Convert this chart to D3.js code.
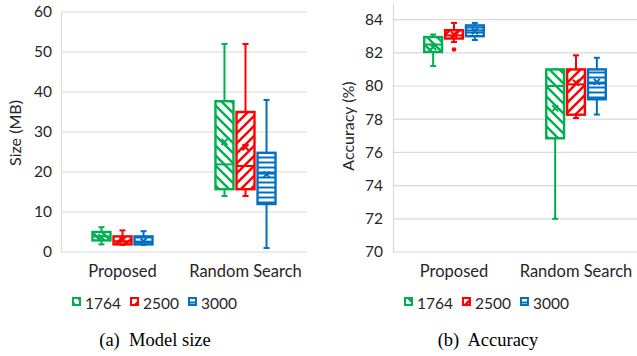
<!DOCTYPE html>
<html><head><meta charset="utf-8">
<script src="https://cdn.jsdelivr.net/npm/d3@7"></script>
<style>body{margin:0;background:#fff}svg{display:block}</style>
</head><body>
<svg id="c" width="637" height="356"></svg>
<script>
// ---- data ----
const categories = ["Proposed", "Random Search"];
const seriesNames = ["1764", "2500", "3000"];
const seriesColors = ["#00b050", "#ff0000", "#0070c0"];
// per category: [min, q1, median, q3, max, mean]
const size1764 = [[1.9, 2.9, 3.9, 5.0, 6.2, 3.7], [14.0, 15.7, 21.9, 37.7, 52.0, 27.5]];
const size2500 = [[1.8, 1.9, 2.7, 3.9, 5.4, 2.9], [14.0, 15.7, 21.5, 35.0, 52.0, 26.2]];
const size3000 = [[1.8, 1.9, 2.6, 3.9, 5.2, 2.7], [1.0, 12.0, 19.6, 24.8, 38.0, 19.4]];
const acc1764 = [[81.2, 82.05, 82.5, 82.95, 83.1, 82.35], [72.0, 76.85, 80.0, 81.0, 81.0, 78.65]];
const acc2500 = [[82.65, 82.86, 83.05, 83.36, 83.8, 83.1], [78.07, 78.27, 80.1, 81.0, 81.85, 80.2]];
const acc3000 = [[82.77, 83.0, 83.35, 83.65, 83.8, 83.3], [78.28, 79.2, 80.15, 81.0, 81.7, 80.25]];
const accOutliers2500 = [[82.2], []];
const sizeTicks = [0, 10, 20, 30, 40, 50, 60];
const accTicks = [70, 72, 74, 76, 78, 80, 82, 84];
const captions = ["(a)  Model size", "(b)  Accuracy"];

const svg = d3.select("#c");
const FONT = "Lato, 'Open Sans', sans-serif";
const TXT = "#262626";

// patterns
const defs = svg.append("defs");
function mkPattern(id, color, kind) {
  if (kind === "h") {
    const p = defs.append("pattern").attr("id", id).attr("patternUnits", "userSpaceOnUse")
      .attr("width", 6).attr("height", 5);
    p.append("rect").attr("width", 6).attr("height", 5).attr("fill", "#fff");
    p.append("line").attr("x1", 0).attr("x2", 6).attr("y1", 2.5).attr("y2", 2.5)
      .attr("stroke", color).attr("stroke-width", 2);
  } else {
    const s = 10;
    const p = defs.append("pattern").attr("id", id).attr("patternUnits", "userSpaceOnUse")
      .attr("width", s).attr("height", s);
    p.append("rect").attr("width", s).attr("height", s).attr("fill", "#fff");
    const d = kind === "down"
      ? `M0,0L${s},${s}M${-s/2},${s/2}L${s/2},${s*1.5}M${s/2},${-s/2}L${s*1.5},${s/2}`
      : `M0,${s}L${s},0M${-s/2},${s/2}L${s/2},${-s/2}M${s/2},${s*1.5}L${s*1.5},${s/2}`;
    p.append("path").attr("d", d).attr("stroke", color).attr("stroke-width", 2.4).attr("fill", "none");
  }
}
const kinds = ["down", "up", "h"];
seriesNames.forEach((s, i) => mkPattern("pat" + i, seriesColors[i], kinds[i]));

function drawChart(opt) {
  const g = svg.append("g");
  const y = d3.scaleLinear().domain(opt.domain).range([opt.bottom, opt.top]);
  const x = d3.scaleBand().domain(categories).range([opt.left, opt.right]);
  const xi = d3.scaleBand().domain(seriesNames).range([0, x.bandwidth()])
    .paddingInner(0.05).paddingOuter(1.45);

  // gridlines
  g.selectAll("line.grid").data(opt.ticks).join("line")
    .attr("x1", opt.left).attr("x2", opt.right)
    .attr("y1", d => y(d)).attr("y2", d => y(d))
    .attr("stroke", "#d9d9d9").attr("stroke-width", 1.2);
  // y axis
  const ax = g.append("g").attr("transform", `translate(${opt.left},0)`)
    .call(d3.axisLeft(y).tickValues(opt.ticks).tickSize(0).tickPadding(opt.pad));
  ax.select(".domain").attr("stroke", "#d9d9d9").attr("stroke-width", 1.2);
  ax.selectAll("text").attr("font-family", FONT).attr("font-size", 15.5).attr("fill", TXT);
  // y title
  g.append("text").attr("transform", `translate(${opt.titleX},${opt.titleY}) rotate(-90)`)
    .attr("text-anchor", "middle").attr("dy", "0.35em")
    .attr("font-family", FONT).attr("font-size", 16).attr("fill", TXT).text(opt.title);
  // category labels
  g.selectAll("text.cat").data(categories).join("text")
    .attr("x", d => x(d) + x.bandwidth() / 2).attr("y", 277)
    .attr("text-anchor", "middle").attr("font-family", FONT).attr("font-size", 16.5)
    .attr("fill", TXT).text(d => d);

  // boxes
  opt.data.forEach((arr, si) => {
    const col = seriesColors[si];
    arr.forEach((st, ci) => {
      const [mn, q1, md, q3, mx, mean] = st;
      const x0 = x(categories[ci]) + xi(seriesNames[si]);
      const w = xi.bandwidth();
      const cx = x0 + w / 2;
      const bg = g.append("g");
      // whiskers
      bg.append("line").attr("x1", cx).attr("x2", cx).attr("y1", y(q3)).attr("y2", y(mx))
        .attr("stroke", col).attr("stroke-width", 2);
      bg.append("line").attr("x1", cx).attr("x2", cx).attr("y1", y(q1)).attr("y2", y(mn))
        .attr("stroke", col).attr("stroke-width", 2);
      [mn, mx].forEach(v => bg.append("line").attr("x1", cx - 3).attr("x2", cx + 3)
        .attr("y1", y(v)).attr("y2", y(v)).attr("stroke", col).attr("stroke-width", 2));
      // box
      bg.append("rect").attr("x", x0 + 1).attr("width", w - 2)
        .attr("y", y(q3)).attr("height", Math.max(0.5, y(q1) - y(q3)))
        .attr("fill", `url(#pat${si})`).attr("stroke", col).attr("stroke-width", 2.4);
      // median
      bg.append("line").attr("x1", x0 + 1).attr("x2", x0 + w - 1)
        .attr("y1", y(md)).attr("y2", y(md)).attr("stroke", col).attr("stroke-width", 2);
      // mean X
      const my = y(mean), r = 3;
      bg.append("path").attr("d", `M${cx - r},${my - r}L${cx + r},${my + r}M${cx - r},${my + r}L${cx + r},${my - r}`)
        .attr("stroke", col).attr("stroke-width", 2);
      // outliers
      if (opt.outliers && opt.outliers[si]) {
        opt.outliers[si][ci].forEach(v => bg.append("circle").attr("cx", cx).attr("cy", y(v))
          .attr("r", 2.3).attr("fill", col));
      }
    });
  });

  // legend
  let lx = opt.legendX;
  seriesNames.forEach((s, i) => {
    g.append("rect").attr("x", lx + 1).attr("y", 298).attr("width", 7).attr("height", 7)
      .attr("fill", `url(#pat${i})`).attr("stroke", seriesColors[i]).attr("stroke-width", 2);
    const t = g.append("text").attr("x", lx + 13).attr("y", 309)
      .attr("font-family", FONT).attr("font-size", 15.5).attr("fill", TXT).text(s);
    lx += 13 + t.node().getComputedTextLength() + 9;
  });
  // caption
  g.append("text").attr("x", opt.capX).attr("y", 346).attr("text-anchor", "middle")
    .attr("font-family", "'Liberation Serif', 'Times New Roman', serif").attr("font-size", 18.5)
    .attr("fill", "#000").attr("xml:space", "preserve").style("white-space", "pre").text(opt.caption);
}

drawChart({
  domain: [0, 60], ticks: sizeTicks, top: 12, bottom: 252, left: 61, right: 307, pad: 9,
  title: "Size (MB)", titleX: 15, titleY: 133, data: [size1764, size2500, size3000],
  legendX: 72, capX: 155, caption: captions[0]
});
drawChart({
  domain: [70, 85], ticks: accTicks, top: 3, bottom: 252, left: 393, right: 637, pad: 10,
  title: "Accuracy (%)", titleX: 348, titleY: 126, data: [acc1764, acc2500, acc3000],
  outliers: [null, accOutliers2500, null],
  legendX: 404, capX: 488, caption: captions[1]
});
</script>
</body></html>
